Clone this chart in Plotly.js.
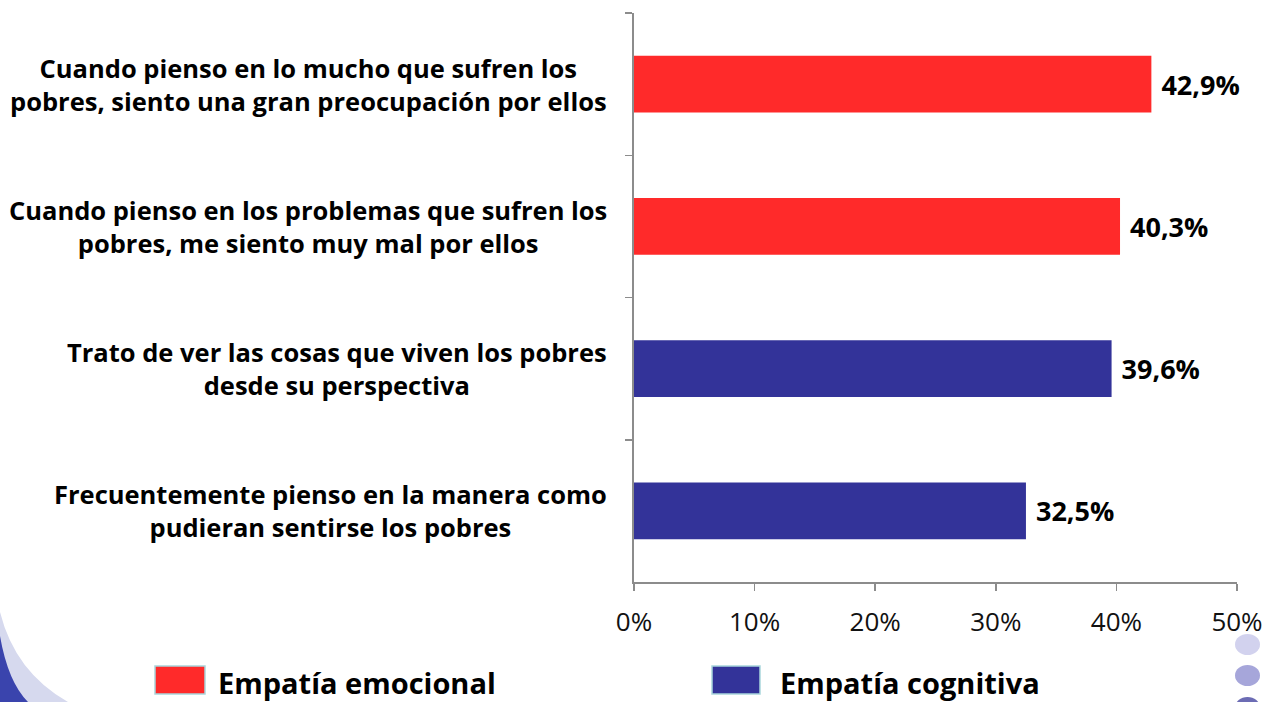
<!DOCTYPE html>
<html><head><meta charset="utf-8">
<script src="https://cdn.plot.ly/plotly-3.0.1.min.js"></script>
<style>html,body{margin:0;padding:0;background:#fff;}#chart{width:1272px;height:702px;}</style>
</head><body><div id="chart"></div>
<script>
const categories = [
  "Cuando pienso en lo mucho que sufren los<br>pobres, siento una gran preocupación por ellos",
  "Cuando pienso en los problemas que sufren los<br>pobres, me siento muy mal por ellos",
  "Trato de ver las cosas que viven los pobres<br>desde su perspectiva",
  "Frecuentemente pienso en la manera como<br>pudieran sentirse los pobres"
];
const seriesNames = ["Empatía emocional", "Empatía cognitiva"];
const emocionalCats = [categories[0], categories[1]];
const emocionalVals = [0.429, 0.403];
const cognitivaCats = [categories[2], categories[3]];
const cognitivaVals = [0.396, 0.325];
const xTicks = [0, 0.1, 0.2, 0.3, 0.4, 0.5];

const W = 1272, H = 702, L = 634, R = 1237, T = 13, B = 582;
const px = x => (x - L) / (R - L);
const py = y => (B - y) / (B - T);

const RED = "#FF2A2A", BLUE = "#333399";
const FONT = "Open Sans, DejaVu Sans, sans-serif";

const common = {
  type: "bar", orientation: "h", width: 0.4,
  texttemplate: " %{x:.1%}", textposition: "outside", cliponaxis: false,
  textfont: {family: FONT, size: 27, color: "#000", weight: 700},
  showlegend: false, hoverinfo: "x+y"
};
const traces = [
  Object.assign({}, common, {name: seriesNames[0], y: emocionalCats, x: emocionalVals, marker: {color: RED}}),
  Object.assign({}, common, {name: seriesNames[1], y: cognitivaCats, x: cognitivaVals, marker: {color: BLUE}})
];

const annotations = categories.map(c => ({
  xref: "paper", yref: "y", x: px(609), y: c, xanchor: "right", yanchor: "middle",
  align: "center", showarrow: false, text: c,
  font: {family: FONT, size: 25.5, color: "#000", weight: 700}
}));
// legend labels
annotations.push({xref: "paper", yref: "paper", x: px(216), y: py(682), xanchor: "left", yanchor: "middle",
  showarrow: false, text: seriesNames[0], font: {family: FONT, size: 29, color: "#000", weight: 700}});
annotations.push({xref: "paper", yref: "paper", x: px(778), y: py(682), xanchor: "left", yanchor: "middle",
  showarrow: false, text: seriesNames[1], font: {family: FONT, size: 29, color: "#000", weight: 700}});

const shapes = [
  {type: "rect", xref: "paper", yref: "paper", x0: px(155), x1: px(205), y0: py(666), y1: py(694),
   fillcolor: RED, line: {color: "#a9d6dc", width: 1.5}},
  {type: "rect", xref: "paper", yref: "paper", x0: px(712), x1: px(760), y0: py(666), y1: py(694),
   fillcolor: BLUE, line: {color: "#a9d6dc", width: 1.5}},
  // decorative circles bottom right
  {type: "circle", xref: "paper", yref: "paper", x0: px(1235), x1: px(1260), y0: py(634), y1: py(655), fillcolor: "#d2d2ee", line: {width: 0}},
  {type: "circle", xref: "paper", yref: "paper", x0: px(1235), x1: px(1260), y0: py(665), y1: py(686), fillcolor: "#a6a6da", line: {width: 0}},
  {type: "circle", xref: "paper", yref: "paper", x0: px(1235), x1: px(1260), y0: py(697), y1: py(718), fillcolor: "#6c6cb4", line: {width: 0}},
  // swoosh bottom left
  {type: "path", xref: "paper", yref: "paper",
   path: `M ${px(0)},${py(612)} Q ${px(15)},${py(672)} ${px(68)},${py(702)} L ${px(0)},${py(702)} Z`,
   fillcolor: "#d6d9ee", line: {width: 0}},
  {type: "path", xref: "paper", yref: "paper",
   path: `M ${px(0)},${py(636)} Q ${px(8)},${py(682)} ${px(28)},${py(702)} L ${px(0)},${py(702)} Z`,
   fillcolor: "#3a44ad", line: {width: 0}}
];

const layout = {
  width: W, height: H,
  margin: {l: L, r: W - R, t: T, b: H - B, pad: 0},
  paper_bgcolor: "#fff", plot_bgcolor: "#fff",
  separators: ",.",
  barmode: "overlay",
  font: {family: FONT, color: "#000"},
  xaxis: {
    range: [0, 0.5], tickvals: xTicks, tickformat: ".0%",
    showgrid: false, zeroline: false,
    showline: true, linecolor: "#8c8c8c", linewidth: 2,
    ticks: "outside", ticklen: 7, tickcolor: "#8c8c8c", tickwidth: 1.5,
    ticklabelstandoff: 9,
    tickfont: {family: FONT, size: 26, color: "#111"}
  },
  yaxis: {
    type: "category", categoryorder: "array", categoryarray: categories,
    autorange: "reversed",
    showgrid: false, zeroline: false,
    showline: true, linecolor: "#8c8c8c", linewidth: 2,
    ticks: "outside", tickson: "boundaries", ticklen: 7, tickcolor: "#8c8c8c", tickwidth: 1.5,
    showticklabels: false
  },
  annotations: annotations,
  shapes: shapes,
  showlegend: false
};

Plotly.newPlot("chart", traces, layout, {displayModeBar: false, staticPlot: true});
</script>
</body></html>
